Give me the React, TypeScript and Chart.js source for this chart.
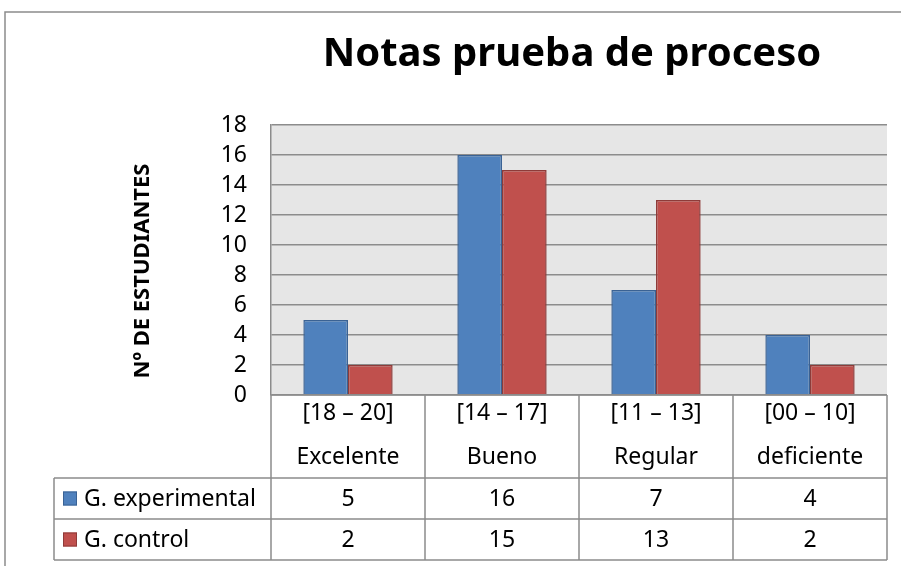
import React, { useEffect, useRef } from "react";
import { Chart, registerables } from "chart.js";

Chart.register(...registerables);

const chartTitle = "Notas prueba de proceso";
const yAxisTitle = "Nº DE ESTUDIANTES";
const rangeLabels = ["[18 – 20]", "[14 – 17]", "[11 – 13]", "[00 – 10]"];
const categoryNames = ["Excelente", "Bueno", "Regular", "deficiente"];
const seriesNames = ["G. experimental", "G. control"];
const experimental = [5, 16, 7, 4];
const control = [2, 15, 13, 2];
const yMax = 18;
const yStep = 2;

const FONT = "'Noto Sans', 'Open Sans', sans-serif";
const BLUE = "#4f81bd";
const BLUE_BORDER = "#3a6294";
const RED = "#c0504d";
const RED_BORDER = "#8e3b39";
const LINE = "#8c8c8c";

const seriesColors = [BLUE, RED];
const seriesBorders = [BLUE_BORDER, RED_BORDER];
const seriesValues = [experimental, control];

const decorPlugin = {
  id: "decor",
  beforeDraw(chart: any) {
    const { ctx, chartArea: a } = chart;
    ctx.save();
    ctx.fillStyle = "#ffffff";
    ctx.fillRect(0, 0, chart.width, chart.height);
    ctx.strokeStyle = LINE;
    ctx.lineWidth = 1.5;
    ctx.beginPath();
    ctx.moveTo(5, chart.height);
    ctx.lineTo(5, 12);
    ctx.lineTo(chart.width, 12);
    ctx.stroke();
    ctx.fillStyle = "#e6e6e6";
    ctx.fillRect(a.left, a.top, a.right - a.left, a.bottom - a.top);
    ctx.restore();
  },
  afterDraw(chart: any) {
    const { ctx, chartArea: a } = chart;
    const xs = chart.scales.x;
    ctx.save();
    ctx.fillStyle = "#000";
    ctx.font = `bold 40px ${FONT}`;
    ctx.textAlign = "center";
    ctx.textBaseline = "middle";
    ctx.fillText(chartTitle, 572, 55);
    ctx.save();
    ctx.translate(143, 271);
    ctx.rotate(-Math.PI / 2);
    ctx.font = `bold 22px ${FONT}`;
    ctx.fillText(yAxisTitle, 0, 0);
    ctx.restore();

    const n = rangeLabels.length;
    const catW = xs.getPixelForValue(1) - xs.getPixelForValue(0);
    const bounds: number[] = [];
    for (let i = 0; i < n; i++) bounds.push(xs.getPixelForValue(i) - catW / 2);
    bounds.push(xs.getPixelForValue(n - 1) + catW / 2);
    const top = a.bottom;
    const hdrBottom = top + 83;
    const rowH = 41;
    const legendLeft = 54;
    const tableBottom = hdrBottom + rowH * seriesNames.length;

    ctx.strokeStyle = LINE;
    ctx.lineWidth = 1.5;
    ctx.beginPath();
    ctx.moveTo(a.left, top);
    ctx.lineTo(a.right, top);
    for (let r = 0; r <= seriesNames.length; r++) {
      const y = hdrBottom + r * rowH;
      ctx.moveTo(legendLeft, y);
      ctx.lineTo(a.right, y);
    }
    for (const b of bounds) {
      ctx.moveTo(b, top);
      ctx.lineTo(b, tableBottom);
    }
    ctx.moveTo(legendLeft, hdrBottom);
    ctx.lineTo(legendLeft, tableBottom);
    ctx.stroke();

    ctx.fillStyle = "#000";
    ctx.font = `23px ${FONT}`;
    ctx.textAlign = "center";
    ctx.textBaseline = "middle";
    for (let i = 0; i < n; i++) {
      const cx = xs.getPixelForValue(i);
      ctx.fillText(rangeLabels[i], cx, top + 18);
      ctx.fillText(categoryNames[i], cx, top + 62);
      for (let s = 0; s < seriesNames.length; s++) {
        ctx.fillText(String(seriesValues[s][i]), cx, hdrBottom + rowH * s + rowH / 2 + 1);
      }
    }
    ctx.textAlign = "left";
    for (let s = 0; s < seriesNames.length; s++) {
      const cy = hdrBottom + rowH * s + rowH / 2;
      ctx.fillStyle = seriesColors[s];
      ctx.fillRect(63, cy - 7, 14, 14);
      ctx.strokeStyle = seriesBorders[s];
      ctx.lineWidth = 1;
      ctx.strokeRect(63.5, cy - 6.5, 13, 13);
      ctx.fillStyle = "#000";
      ctx.fillText(seriesNames[s], 84, cy + 1);
    }
    ctx.restore();
  },
};

export default function App() {
  const ref = useRef<HTMLCanvasElement | null>(null);
  useEffect(() => {
    if (!ref.current) return;
    const chart = new Chart(ref.current, {
      type: "bar",
      data: {
        labels: categoryNames,
        datasets: seriesNames.map((name, s) => ({
          label: name,
          data: seriesValues[s],
          backgroundColor: seriesColors[s],
          borderColor: seriesBorders[s],
          borderWidth: 1.5,
          categoryPercentage: 0.58,
          barPercentage: 1.0,
        })),
      },
      options: {
        responsive: false,
        animation: false,
        layout: { padding: { top: 125, bottom: 171, left: 0, right: 14 } },
        plugins: {
          legend: { display: false },
          title: { display: false },
          tooltip: { enabled: false },
        },
        scales: {
          x: { display: false },
          y: {
            min: 0,
            max: yMax,
            ticks: {
              stepSize: yStep,
              autoSkip: false,
              color: "#000",
              font: { family: FONT, size: 23 },
              padding: 24,
            },
            grid: { color: LINE, lineWidth: 1.5, drawTicks: false },
            border: { display: true, color: LINE, width: 1.5 },
            afterFit: (scale: any) => {
              scale.width = 271;
            },
          },
        },
      },
      plugins: [decorPlugin],
    });
    return () => chart.destroy();
  }, []);
  return (
    <div style={{ position: "absolute", left: 0, top: 0, width: 901, height: 566, background: "#fff" }}>
      <canvas ref={ref} width={901} height={566} />
    </div>
  );
}
